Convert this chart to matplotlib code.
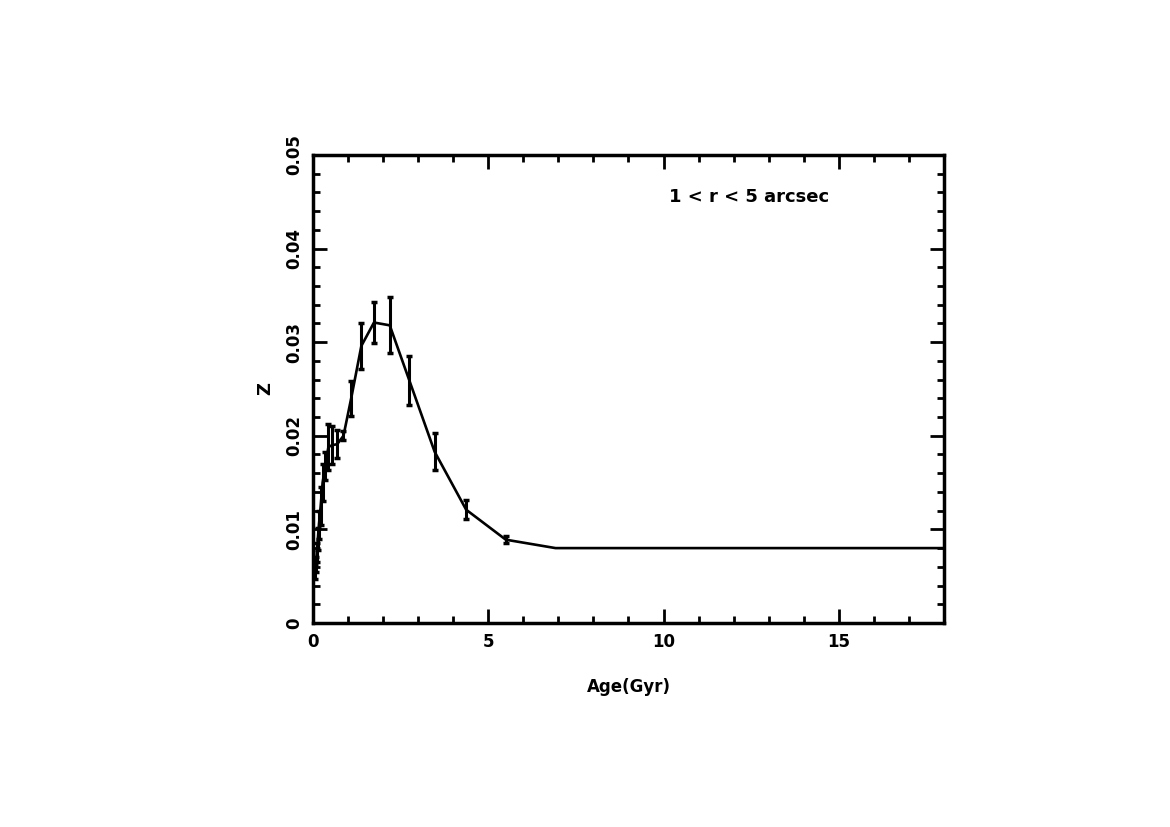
"""Z vs age, 1 < r < 5 arcsec
"""

import numpy as np
import matplotlib.pyplot as plt
from matplotlib.ticker import MultipleLocator

# data
age = [0.07, 0.087, 0.11, 0.14, 0.17, 0.22, 0.275, 0.35, 0.44, 0.55,
       0.69, 0.87, 1.09, 1.38, 1.74, 2.19, 2.75, 3.47, 4.37, 5.50,
       6.92, 8.71, 10.96, 13.80, 17.38, 21.88]
z = [0.0055, 0.0062, 0.0075, 0.0090, 0.0105, 0.0125, 0.0150, 0.0168, 0.0188, 0.0190,
     0.0191, 0.0200, 0.0240, 0.0296, 0.0321, 0.0318, 0.0259, 0.0183, 0.0121, 0.0089,
     0.0080, 0.0080, 0.0080, 0.0080, 0.0080, 0.0080]
z_err = [0.0008, 0.0008, 0.0010, 0.0012, 0.0015, 0.0020, 0.0020, 0.0015, 0.0025, 0.0020,
         0.0015, 0.0005, 0.0019, 0.0025, 0.0022, 0.0030, 0.0026, 0.0020, 0.0010, 0.0004,
         0.0, 0.0, 0.0, 0.0, 0.0, 0.0]

plt.rcParams['font.family'] = ['DejaVu Sans']
plt.rcParams['font.weight'] = 'bold'

fig = plt.figure(figsize=(11.7, 8.27), dpi=100)
ax = fig.add_axes([0.2675, 0.2467, 0.5393, 0.5659])

age_a = np.array(age)
z_a = np.array(z)
err_a = np.array(z_err)
has_err = err_a > 0

ax.plot(age_a, z_a, color='black', lw=1.9)
ax.errorbar(age_a[has_err], z_a[has_err], yerr=err_a[has_err], fmt='none',
            ecolor='black', elinewidth=2.2, capsize=2, capthick=2.5)

ax.set_xlim(0, 18)
ax.set_ylim(0, 0.05)
ax.xaxis.set_minor_locator(MultipleLocator(1))
ax.yaxis.set_minor_locator(MultipleLocator(0.002))
ax.set_xticks([0, 5, 10, 15])
ax.set_xticklabels(['0', '5', '10', '15'])
ax.set_yticks([0, 0.01, 0.02, 0.03, 0.04, 0.05])
ax.set_yticklabels(['0', '0.01', '0.02', '0.03', '0.04', '0.05'],
                   rotation=90, va='center')

ax.tick_params(which='both', direction='in', top=True, right=True,
               width=2, labelsize=12)
ax.tick_params(which='major', length=10, pad=7)
ax.tick_params(which='minor', length=5)
for s in ax.spines.values():
    s.set_linewidth(2.5)

ax.set_xlabel('Age(Gyr)', fontsize=12, fontweight='bold', labelpad=20)
ax.set_ylabel('Z', fontsize=13, fontweight='bold', labelpad=8)

ax.text(12.43, 0.0455, '1 < r < 5 arcsec', fontsize=13, fontweight='bold',
        ha='center', va='center')

plt.savefig('out.png', dpi=100)
